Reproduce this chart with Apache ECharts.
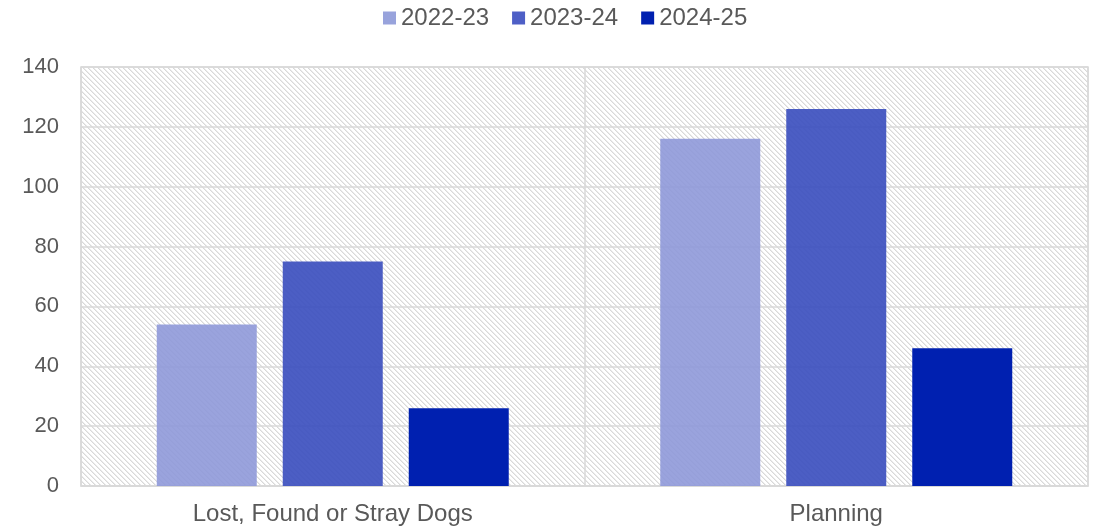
<!DOCTYPE html>
<html><head><meta charset="utf-8">
<script src="https://cdn.jsdelivr.net/npm/echarts@6/dist/echarts.min.js"></script>
<style>html,body{margin:0;padding:0;background:#fff}#c{width:1094px;height:528px}</style>
</head><body><div id="c"></div>
<script>
const categories = ['Lost, Found or Stray Dogs', 'Planning'];
const seriesNames = ['2022-23', '2023-24', '2024-25'];
const values2223 = [54, 116];
const values2324 = [75, 126];
const values2425 = [26, 46];
const yTicks = [0, 20, 40, 60, 80, 100, 120, 140];

// hatch pattern
const tile = document.createElement('canvas');
tile.width = 5; tile.height = 5;
const tctx = tile.getContext('2d');
tctx.fillStyle = '#ffffff'; tctx.fillRect(0,0,5,5);
tctx.fillStyle = '#d9d9d9';
for (let i = 0; i < 5; i++) { tctx.fillRect(i, i, 1, 1); }
tctx.fillStyle = '#ebebeb';
for (let i = 0; i < 5; i++) { tctx.fillRect((i+1)%5, i, 1, 1); }

const chart = echarts.init(document.getElementById('c'));
const font = 'Liberation Sans, Arial, sans-serif';
const colors = ['rgba(140,150,216,0.88)', 'rgba(56,76,190,0.9)', '#0020b0'];
const legendColors = ['#98a3dc', '#4e5fc6', '#0020b0'];
const data = [values2223, values2324, values2425];
chart.setOption({
  animation: false,
  legend: {
    top: 1, left: 378,
    itemWidth: 13, itemHeight: 13, itemGap: 23,
    textStyle: { fontFamily: font, fontSize: 24, color: '#595959' },
    data: seriesNames.map((n, i) => ({ name: n, icon: 'rect', itemStyle: { color: legendColors[i] } }))
  },
  grid: {
    left: 81, right: 6, top: 67, bottom: 42,
    show: true, borderColor: '#d9d9d9', borderWidth: 1.5,
    backgroundColor: { image: tile, repeat: 'repeat' }
  },
  xAxis: {
    type: 'category', data: categories,
    axisLine: { lineStyle: { color: '#d9d9d9', width: 1.5 } },
    axisTick: { show: false },
    splitLine: { show: true, lineStyle: { color: '#d9d9d9', width: 1.5 } },
    axisLabel: { fontFamily: font, fontSize: 24, color: '#595959', margin: 16 }
  },
  yAxis: {
    type: 'value', min: yTicks[0], max: yTicks[yTicks.length-1], interval: 20,
    axisLine: { show: false }, axisTick: { show: false },
    splitLine: { lineStyle: { color: '#d9d9d9', width: 1.5 } },
    axisLabel: { fontFamily: font, fontSize: 22, color: '#595959', margin: 22 }
  },
  series: seriesNames.map((n, i) => ({
    name: n, type: 'bar', data: data[i],
    barWidth: 100, barGap: '26%',
    itemStyle: { color: colors[i] }
  }))
});
</script></body></html>
